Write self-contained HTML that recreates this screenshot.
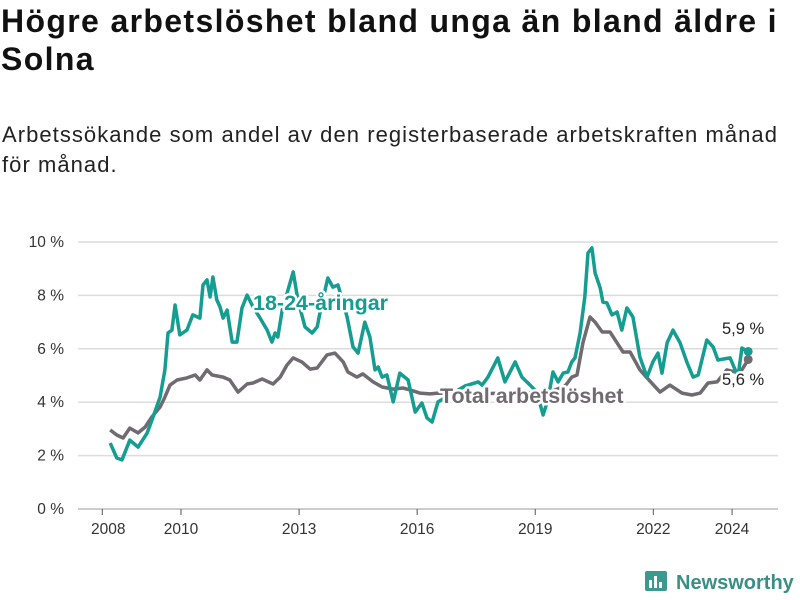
<!DOCTYPE html>
<html><head><meta charset="utf-8"><style>
body{margin:0;background:#fff;font-family:"Liberation Sans",sans-serif;color:#111;}
#wrap{position:relative;width:800px;height:600px;overflow:hidden;}
h1{position:absolute;left:1px;top:2px;margin:0;font-size:32px;line-height:38px;font-weight:bold;letter-spacing:1.35px;}
p.sub{position:absolute;left:2px;top:120px;margin:0;font-size:22px;line-height:30px;color:#222;letter-spacing:1.05px;}
svg{position:absolute;left:0;top:0;}
</style></head><body>
<div id="wrap">
<h1>Högre arbetslöshet bland unga än bland äldre i<br>Solna</h1>
<p class="sub">Arbetssökande som andel av den registerbaserade arbetskraften månad<br>för månad.</p>
<svg id="chart" width="800" height="600"></svg>
</div>
<script>
const yTicks=[0,2,4,6,8,10];
const xTicks=[2008,2010,2013,2016,2019,2022,2024];
const youthYears=[2008.20,2008.37,2008.50,2008.70,2008.91,2009.14,2009.29,2009.47,2009.59,2009.67,2009.77,2009.85,2009.97,2010.15,2010.30,2010.48,2010.56,2010.66,2010.74,2010.81,2010.91,2010.99,2011.07,2011.17,2011.30,2011.42,2011.55,2011.68,2011.83,2012.01,2012.19,2012.31,2012.39,2012.46,2012.57,2012.85,2012.97,2013.15,2013.33,2013.46,2013.53,2013.73,2013.86,2013.99,2014.22,2014.37,2014.50,2014.67,2014.80,2014.93,2015.01,2015.11,2015.23,2015.39,2015.56,2015.77,2015.95,2016.12,2016.25,2016.38,2016.53,2016.83,2017.22,2017.55,2017.65,2017.80,2018.05,2018.23,2018.49,2018.66,2018.87,2019.04,2019.20,2019.32,2019.45,2019.58,2019.71,2019.83,2019.93,2020.01,2020.14,2020.26,2020.34,2020.44,2020.52,2020.65,2020.72,2020.82,2020.95,2021.08,2021.20,2021.33,2021.48,2021.66,2021.84,2021.99,2022.12,2022.22,2022.35,2022.50,2022.68,2022.86,2023.01,2023.14,2023.36,2023.52,2023.64,2023.95,2024.08,2024.15,2024.25,2024.41];
const youthValues=[2.47,1.91,1.84,2.58,2.32,2.85,3.45,4.19,5.21,6.59,6.70,7.64,6.52,6.70,7.27,7.15,8.39,8.58,7.94,8.69,7.83,7.57,7.15,7.45,6.25,6.25,7.53,8.01,7.57,7.15,6.70,6.25,6.59,6.44,7.45,8.88,7.83,6.82,6.59,6.82,7.34,8.65,8.31,8.39,7.19,6.07,5.84,7.00,6.44,5.21,5.32,4.94,5.02,4.01,5.09,4.83,3.63,3.97,3.41,3.26,4.01,4.27,4.61,4.76,4.64,4.94,5.66,4.76,5.51,4.94,4.64,4.38,3.52,4.08,5.13,4.76,5.09,5.13,5.51,5.66,6.59,7.94,9.59,9.78,8.84,8.28,7.75,7.72,7.27,7.38,6.70,7.53,7.19,5.69,4.94,5.51,5.84,5.09,6.22,6.70,6.22,5.47,4.94,5.02,6.33,6.07,5.58,5.66,5.21,4.94,6.03,5.9];
const totalYears=[2008.20,2008.37,2008.53,2008.70,2008.91,2009.09,2009.26,2009.47,2009.59,2009.72,2009.90,2010.15,2010.36,2010.48,2010.66,2010.79,2011.07,2011.24,2011.45,2011.68,2011.83,2012.06,2012.34,2012.52,2012.69,2012.85,2013.07,2013.28,2013.46,2013.71,2013.91,2014.12,2014.24,2014.47,2014.62,2014.88,2015.11,2015.39,2015.64,2015.82,2016.07,2016.33,2016.53,2017.34,2018.36,2019.37,2019.76,2019.93,2020.06,2020.21,2020.39,2020.52,2020.70,2020.90,2021.08,2021.23,2021.41,2021.66,2021.84,2022.17,2022.42,2022.73,2022.98,2023.19,2023.39,2023.62,2023.87,2024.20,2024.41];
const totalValues=[2.96,2.77,2.66,3.03,2.85,3.07,3.45,3.82,4.19,4.64,4.83,4.91,5.02,4.83,5.21,5.02,4.94,4.83,4.38,4.68,4.72,4.87,4.68,4.94,5.39,5.66,5.51,5.24,5.28,5.77,5.84,5.51,5.13,4.94,5.06,4.76,4.57,4.49,4.53,4.46,4.34,4.31,4.34,4.31,4.34,4.38,4.61,4.94,5.02,6.22,7.19,7.00,6.63,6.63,6.22,5.88,5.88,5.21,4.91,4.38,4.64,4.34,4.27,4.34,4.72,4.76,5.21,5.09,5.6];

const NS='http://www.w3.org/2000/svg';
const svg=document.getElementById('chart');
const X=t=>181+(t-2010)*39.36;
const Y=v=>509-v*26.7;
function mk(tag,attrs,parent){const e=document.createElementNS(NS,tag);for(const k in attrs)e.setAttribute(k,attrs[k]);(parent||svg).appendChild(e);return e;}

yTicks.forEach(v=>{
  const g=mk('line',{x1:78,x2:778,y1:Y(v),y2:Y(v),stroke:v===0?'#bbb':'#dcdcdc','stroke-width':1.5});
  
  
  const t=mk('text',{x:64,y:Y(v)+5,'text-anchor':'end','font-size':15.5,fill:'#333'});
  t.textContent=v+' %';
  
  
});
xTicks.forEach(yr=>{
  const tk=mk('line',{x1:X(yr),x2:X(yr),y1:509,y2:515,stroke:'#555','stroke-width':1});
  
  
  const t=mk('text',{x:X(yr)+(yr===2008?6:0),y:534,'text-anchor':'middle','font-size':15.5,fill:'#333'});
  t.textContent=yr;
  
  
});
function line(xs,vs,color,name){
  const d=xs.map((t,i)=>(i?'L':'M')+X(t).toFixed(1)+','+Y(vs[i]).toFixed(1)).join('');
  const p=mk('path',{d:d,fill:'none',stroke:color,'stroke-width':3.5,'stroke-linejoin':'round'});
  
  
  const n=xs.length-1;
  const c=mk('circle',{cx:X(xs[n]),cy:Y(vs[n]),r:4.5,fill:color});
  
  
}
line(totalYears,totalValues,'#6f6b70','total-line');
line(youthYears,youthValues,'#149d90','youth-line');

function label(txt,x,y,color,name,bold,size){
  const t=mk('text',{x:x,y:y,'font-size':size,'font-weight':bold?'bold':'normal',fill:color,stroke:'#fff','stroke-width':5,'paint-order':'stroke','stroke-linejoin':'round'});
  t.textContent=txt;
  
  
}
label('18-24-åringar',253,310,'#149d90','youth-series-label',true,21.5);
label('Total arbetslöshet',440,403,'#6f6b70','total-series-label',true,21.5);
label('5,9 %',722,334,'#222','youth-end-value',false,16.5);
label('5,6 %',722,385,'#222','total-end-value',false,16.5);

const lg=mk('g',{});


mk('rect',{x:645,y:571,width:22,height:20,rx:2,fill:'#3a9a8e'},lg);
mk('rect',{x:649,y:580,width:3,height:8,fill:'#fff'},lg);
mk('rect',{x:654,y:576,width:3,height:12,fill:'#fff'},lg);
mk('rect',{x:659,y:582,width:3,height:6,fill:'#fff'},lg);
const lt=mk('text',{x:676,y:589,'font-size':20,'font-weight':'bold',fill:'#3a8f85'},lg);
lt.textContent='Newsworthy';
</script>
</body></html>
